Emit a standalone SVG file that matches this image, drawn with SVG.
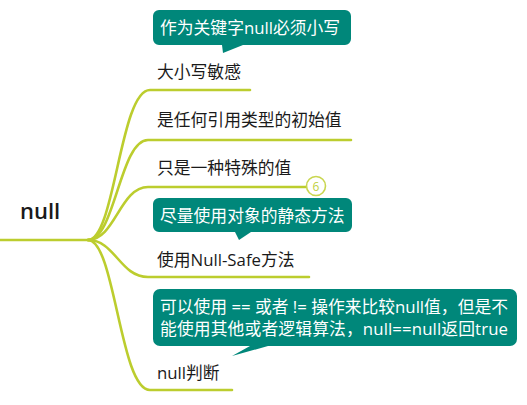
<svg xmlns="http://www.w3.org/2000/svg" width="527" height="405" viewBox="0 0 527 405">
<style>
.br{fill:none;stroke:#bccd2e;stroke-width:2.6;stroke-linecap:round}
.t{font-family:"Open Sans","Noto Sans CJK SC",sans-serif;font-size:16.8px;fill:#1a1a1a}
.ct{font-family:"Open Sans","Noto Sans CJK SC",sans-serif;font-size:16.8px;fill:#ffffff}
.note{fill:#00877a}
</style>
<rect width="527" height="405" fill="#ffffff"/>
<g id="connectors">
<path class="br" d="M0,240 L90,240" stroke-width="3"/>
<path class="br" d="M88,240 C115,240 120,90 150,90 L250,90"/>
<path class="br" d="M88,240 C115,240 120,140 148,140 L351,140"/>
<path class="br" d="M88,240 C115,240 120,187 148,187 L306,187"/>
<path class="br" d="M88,240 C115,240 120,277 148,277 L309,277"/>
<path class="br" d="M88,240 C115,240 120,390 150,390 L232,390"/>
</g>
<g id="root"><text x="20" y="219" font-family="Open Sans,sans-serif" font-size="22" font-weight="600" fill="#1a1a1a">null</text></g>
<g id="n1">
<path class="note" d="M159,10 H345 A6,6 0 0 1 351,16 V39 A6,6 0 0 1 345,45 H243 L223,53 L222,45 H159 A6,6 0 0 1 153,39 V16 A6,6 0 0 1 159,10 Z"/>
<text class="ct" x="160" y="34">作为关键字null必须小写</text>
<text class="t" x="157" y="78">大小写敏感</text>
</g>
<g id="n2"><text class="t" x="157" y="126">是任何引用类型的初始值</text></g>
<g id="n3">
<text class="t" x="157" y="174">只是一种特殊的值</text>
<circle cx="316" cy="186" r="9.5" fill="#ffffff" stroke="#c9d650" stroke-width="1.6"/>
<text x="316" y="190.5" text-anchor="middle" font-family="Open Sans,sans-serif" font-size="12" fill="#c0cf40">6</text>
</g>
<g id="n4">
<path class="note" d="M159,198 H346 A6,6 0 0 1 352,204 V226 A6,6 0 0 1 346,232 H251 L239,240 L235,232 H159 A6,6 0 0 1 153,226 V204 A6,6 0 0 1 159,198 Z"/>
<text class="ct" x="160" y="222">尽量使用对象的静态方法</text>
<text class="t" x="157" y="266">使用Null-Safe方法</text>
</g>
<g id="n5">
<path class="note" d="M160,289 H510 A7,7 0 0 1 517,296 V339 A7,7 0 0 1 510,346 H268 L232,356 L250,346 H160 A7,7 0 0 1 153,339 V296 A7,7 0 0 1 160,289 Z"/>
<text class="ct" x="160" y="313" textLength="348" lengthAdjust="spacing">可以使用 == 或者 != 操作来比较null值，但是不</text>
<text class="ct" x="160" y="335" textLength="348" lengthAdjust="spacing">能使用其他或者逻辑算法，null==null返回true</text>
<text class="t" x="157" y="379">null判断</text>
</g>
</svg>
